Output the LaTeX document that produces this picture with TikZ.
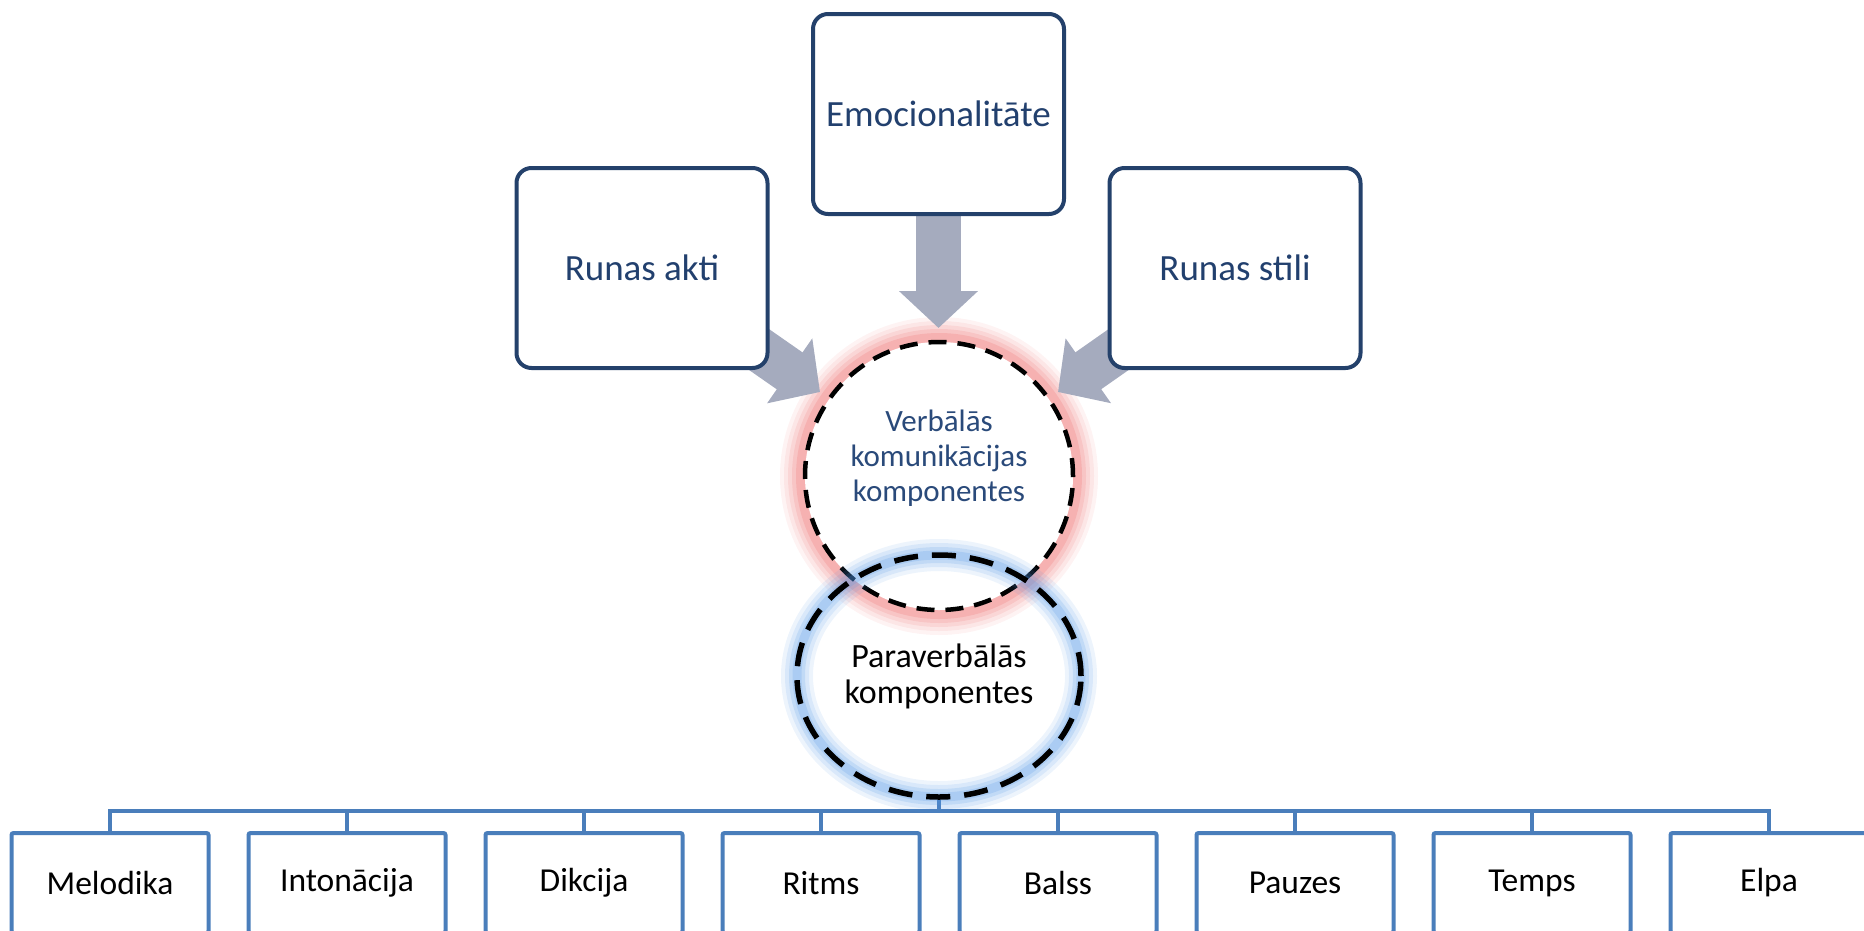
\documentclass[tikz,border=0pt]{standalone}
\usepackage{fontspec}
\setmainfont{Carlito}
\usetikzlibrary{arrows.meta,shapes.geometric,calc}
\pgfdeclarelayer{background}
\pgfdeclarelayer{foreground}
\pgfsetlayers{background,main,foreground}
\definecolor{navy}{HTML}{24416B}
\definecolor{navytext}{HTML}{22406E}
\definecolor{verbtext}{HTML}{2A4A7A}
\definecolor{arrowgray}{HTML}{A5ABBE}
\definecolor{boxblue}{HTML}{4A7EBB}
\definecolor{glowred}{RGB}{235,90,90}
\definecolor{glowblue}{RGB}{80,150,230}
\tikzset{
  topbox/.style={rectangle, rounded corners=15pt, draw=navy, line width=4pt, fill=white,
    minimum width=251pt, minimum height=200pt, inner sep=0pt, text=navytext,
    font=\fontsize{37}{44}\selectfont},
  botbox/.style={rectangle, rounded corners=2pt, draw=boxblue, line width=4pt, fill=white,
    minimum width=197pt, minimum height=100pt, inner sep=0pt, text=black,
    font=\fontsize{33.5}{40}\selectfont},
  verbcircle/.style={circle, draw=black, fill=white, line width=4.5pt,
    dash pattern=on 18pt off 11pt, minimum size=268pt, inner sep=0pt},
  verblabel/.style={align=center, text=verbtext, inner sep=0pt,
    font=\fontsize{31}{35}\selectfont},
  paraellipse/.style={ellipse, draw=black, line width=5.5pt,
    dash pattern=on 24pt off 14pt, minimum width=284pt, minimum height=242pt,
    inner sep=0pt, align=center, text=black, font=\fontsize{34}{36}\selectfont},
  bigarrow/.style={draw=arrowgray, line width=45pt,
    -{Triangle[length=37pt,width=77pt,fill=arrowgray]}},
  busline/.style={draw=boxblue, line width=4pt, line join=miter},
}
\begin{document}
\begin{tikzpicture}[x=1pt,y=-1pt]
\useasboundingbox (0,0) rectangle (1864,930);
% top boxes
\node[topbox] (em) at (938.5,114) {Emocionalitāte};
\node[topbox] (ra) at (642,268) {Runas akti};
\node[topbox] (rs) at (1235,268) {Runas stili};
% central circle
\node[verbcircle] (vc) at (939,476) {};
\node[verblabel] (vlabel) at (939,458) {Verbālās\\komunikācijas\\komponentes};
% arrow tips
\coordinate (t1) at (820,392);
\coordinate (t2) at (938.5,328);
\coordinate (t3) at (1058,392);
\begin{pgfonlayer}{background}
  \foreach \w/\o in {44/0.07, 36/0.09, 28/0.11, 20/0.14, 12/0.18}
    \draw[glowred, line width=\w pt, opacity=\o] (vc.center) circle (137);
  \draw[bigarrow] (ra.center) -- (t1);
  \draw[bigarrow] (em.center) -- (t2);
  \draw[bigarrow] (rs.center) -- (t3);
\end{pgfonlayer}
% paraverbal ellipse
\begin{pgfonlayer}{foreground}
  \foreach \w/\o in {32/0.10, 24/0.13, 16/0.17, 9/0.2}
    \draw[glowblue, line width=\w pt, opacity=\o] (939,676) ellipse [x radius=142, y radius=121];
  \node[paraellipse] (pv) at (939,676) {Paraverbālās\\komponentes};
\end{pgfonlayer}
% bottom boxes
\node[botbox] (b1) at (110,883) {Melodika};
\node[botbox] (b2) at (347,883) {Intonācija};
\node[botbox] (b3) at (584,883) {Dikcija};
\node[botbox] (b4) at (821,883) {Ritms};
\node[botbox] (b5) at (1058,883) {Balss};
\node[botbox] (b6) at (1295,883) {Pauzes};
\node[botbox] (b7) at (1532,883) {Temps};
\node[botbox] (b8) at (1769,883) {Elpa};
% bus
\coordinate (bus) at (939,811);
\draw[busline] (pv.south) -- (bus);
\draw[busline] (b1.north) |- (bus) -| (b8.north);
\foreach \i in {2,...,7}
  \draw[busline] (b\i.north) -- (b\i.north |- bus);
\end{tikzpicture}
\end{document}
